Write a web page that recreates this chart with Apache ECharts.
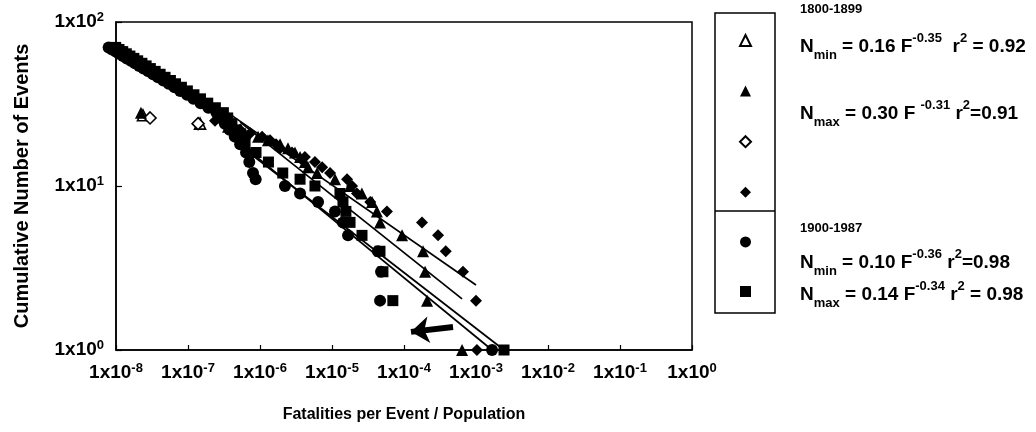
<!DOCTYPE html>
<html><head><meta charset="utf-8">
<script src="https://cdn.jsdelivr.net/npm/echarts@6/dist/echarts.min.js"></script>
<style>html,body{margin:0;padding:0;background:#fff}#c{width:1036px;height:432px}</style>
</head><body><div id="c"></div>
<script>
// ---- data (F = fatalities per event / population, N = cumulative number of events) ----
const xTicks = [1e-8,1e-7,1e-6,1e-5,1e-4,1e-3,1e-2,1e-1,1];
const yTicks = [1,10,100];

// 1800-1899
const openTriF = [2.37e-8, 1.47e-7];
const openTriN = [27, 24];
const triF = [2.22e-8,3.6e-7,4.5e-7,6.2e-7,9.4e-7,1.29e-6,1.9e-6,2.45e-6,3.06e-6,3.6e-6,4.2e-6,4.65e-6,6.2e-6,1.1e-5,1.78e-5,2.6e-5,3.6e-5,4.2e-5,4.65e-5,9.4e-5,1.84e-4,1.96e-4,2.09e-4,6.4e-4];
const triN = [28,23,22,21,20,19,18,17,16,15,14,13,12,11,10,9,8,7,6,5,4,3,2,1];
const openDiaF = [2.97e-8, 1.38e-7];
const openDiaN = [26, 24];
const diaF = [2.37e-7,4.1e-7,5.3e-7,7.3e-7,1.07e-6,1.38e-6,1.67e-6,1.9e-6,2.78e-6,4.2e-6,5.8e-6,7.3e-6,9.4e-6,1.62e-5,1.9e-5,2.22e-5,3.4e-5,5.8e-5,1.78e-4,2.97e-4,3.8e-4,6.6e-4,1.0e-3,1.03e-3];
const diaN = [25,23,22,21,20,19,18,17,16,15,14,13,12,11,10,9,8,7,6,5,4,3,2,1];

// 1900-1987
const circleN = [70,68,66,64,62,60,58,56,54,52,50,48,46,44,42,40,38,36,34,32,30,28,26,24,22,20,18,16,14,12,11,10,9,8,7,6,5,4,3,2,1];
const circleF = [7.9e-9,8.8e-9,9.9e-9,1.1e-8,1.25e-8,1.41e-8,1.61e-8,1.83e-8,2.1e-8,2.41e-8,2.81e-8,3.27e-8,3.83e-8,4.54e-8,5.4e-8,6.5e-8,7.8e-8,9.7e-8,1.19e-7,1.5e-7,1.92e-7,2.49e-7,2.84e-7,3.25e-7,3.78e-7,4.46e-7,5.3e-7,6.4e-7,7.1e-7,8.0e-7,8.7e-7,2.22e-6,3.6e-6,6.4e-6,1.1e-5,1.42e-5,1.67e-5,4.35e-5,4.8e-5,4.65e-5,1.67e-3];
const squareN = [70,68,66,64,62,60,58,56,54,52,50,48,46,44,42,40,38,36,34,32,30,28,26,24,22,20,18,16,14,12,11,10,9,8,7,6,5,4,3,2,1];
const squareF = [9.9e-9,1.1e-8,1.24e-8,1.39e-8,1.56e-8,1.77e-8,2.0e-8,2.29e-8,2.62e-8,3.0e-8,3.5e-8,4.1e-8,4.8e-8,5.7e-8,6.7e-8,8.1e-8,9.8e-8,1.21e-7,1.49e-7,1.88e-7,2.4e-7,3.1e-7,3.56e-7,4.07e-7,4.7e-7,5.6e-7,6.2e-7,8.8e-7,1.31e-6,2.07e-6,3.6e-6,5.8e-6,1.29e-5,1.42e-5,1.56e-5,1.78e-5,2.61e-5,4.64e-5,5.1e-5,7.0e-5,2.45e-3];

// fitted lines (end points)
const fitMax1800F = [3.6e-7, 1.0e-3];  const fitMax1800N = [27.9, 2.49];
const fitMin1800F = [5.3e-7, 6.4e-4];  const fitMin1800N = [24.5, 2.05];
const fitMax1900F = [8.0e-7, 2.45e-3]; const fitMax1900N = [15.3, 1];
const fitMin1900F = [6.2e-7, 1.67e-3]; const fitMin1900N = [17.2, 1];

// arrow annotation (tail -> head)
const arrowF = [4.8e-4, 1.25e-4];
const arrowN = [1.38, 1.29];

// ---- build ----
const zip = (f, n) => f.map((v, i) => [v, n[i]]);
const FONT = "'Liberation Sans', Arial, Helvetica, sans-serif";
const expFmt = v => '{a|1x10}{s|' + Math.round(Math.log10(v)) + '}';
const axisRich = {
  a: {fontFamily: FONT, fontWeight: 'bold', fontSize: 19, color: '#000', lineHeight: 22},
  s: {fontFamily: FONT, fontWeight: 'bold', fontSize: 13, color: '#000', lineHeight: 12, verticalAlign: 'top'}
};
const blk = '#000';
function scatter(name, data, symbol, size, open, z) {
  return {
    name, type: 'scatter', data, symbol, symbolSize: size, clip: false, z: z,
    itemStyle: open ? {color: '#fff', borderColor: blk, borderWidth: 1.6, opacity: 1} : {color: blk, opacity: 1},
    emphasis: {disabled: true}
  };
}
function fitLine(f, n) {
  return {type: 'line', data: zip(f, n), symbol: 'none', lineStyle: {color: blk, width: 1.7}, z: 4, silent: true};
}
const eqRich = {
  n: {fontFamily: FONT, fontWeight: 'bold', fontSize: 19, color: '#000', lineHeight: 30},
  b: {fontFamily: FONT, fontWeight: 'bold', fontSize: 13, color: '#000', lineHeight: 14, verticalAlign: 'bottom'},
  p: {fontFamily: FONT, fontWeight: 'bold', fontSize: 13, color: '#000', lineHeight: 14, verticalAlign: 'top'}
};
const hdr = {font: "bold 13px " + FONT, fill: '#000'};

const chart = echarts.init(document.getElementById('c'), null, {renderer: 'canvas'});
const arrowSeries = fitLine(fitMin1900F, fitMin1900N);
arrowSeries.markLine = {
  silent: true, symbol: ['none', 'arrow'], symbolSize: [20, 18], animation: false,
  label: {show: false}, lineStyle: {color: blk, width: 6, type: 'solid'},
  data: [[{coord: [arrowF[0], arrowN[0]]}, {coord: [arrowF[1], arrowN[1]]}]]
};
chart.setOption({
  animation: false,
  backgroundColor: '#fff',
  grid: {left: 116, right: 344, top: 22, bottom: 82, show: true, borderColor: blk, borderWidth: 1.5, backgroundColor: 'transparent'},
  xAxis: {
    type: 'log', logBase: 10, min: xTicks[0], max: xTicks[xTicks.length - 1], interval: 1,
    name: 'Fatalities per Event / Population', nameLocation: 'middle', nameGap: 57,
    nameTextStyle: {fontFamily: FONT, fontWeight: 'bold', fontSize: 16, color: '#000'},
    axisLine: {lineStyle: {color: blk, width: 1.5}},
    axisTick: {inside: true, length: 5, lineStyle: {color: blk, width: 1.2}},
    axisLabel: {formatter: expFmt, rich: axisRich, margin: 12},
    splitLine: {show: false}
  },
  yAxis: {
    type: 'log', logBase: 10, min: yTicks[0], max: yTicks[yTicks.length - 1], interval: 1,
    name: 'Cumulative Number of Events', nameLocation: 'middle', nameGap: 84, nameRotate: 90,
    nameTextStyle: {fontFamily: FONT, fontWeight: 'bold', fontSize: 20, color: '#000'},
    axisLine: {lineStyle: {color: blk, width: 1.5}},
    axisTick: {inside: true, length: 6, lineStyle: {color: blk, width: 1.2}},
    axisLabel: {formatter: expFmt, rich: axisRich, margin: 12},
    splitLine: {show: false}
  },
  legend: {
    orient: 'vertical', left: 734, top: 29, itemGap: 38.6, itemWidth: 11, itemHeight: 11,
    formatter: () => '', selectedMode: false,
    data: ['openTri', 'tri', 'openDia', 'dia', 'circle', 'square']
  },
  series: [
    scatter('openTri', zip(openTriF, openTriN), 'triangle', 11, true, 2),
    scatter('tri', zip(triF, triN), 'triangle', 12, false, 3),
    scatter('openDia', zip(openDiaF, openDiaN), 'diamond', 12, true, 2),
    scatter('dia', zip(diaF, diaN), 'diamond', 12, false, 3),
    scatter('circle', zip(circleF, circleN), 'circle', 12, false, 3),
    scatter('square', zip(squareF, squareN), 'rect', 11, false, 3),
    fitLine(fitMax1800F, fitMax1800N),
    fitLine(fitMin1800F, fitMin1800N),
    fitLine(fitMax1900F, fitMax1900N),
    arrowSeries
  ],
  graphic: [
    {type: 'rect', shape: {x: 715, y: 13, width: 60, height: 300}, style: {fill: 'none', stroke: blk, lineWidth: 1.5}},
    {type: 'line', shape: {x1: 715, y1: 211, x2: 775, y2: 211}, style: {stroke: blk, lineWidth: 1.5}},
    {type: 'text', x: 800, y: 3, style: Object.assign({text: '1800-1899'}, hdr)},
    {type: 'text', x: 800, y: 32, style: {text: '{n|N}{b|min}{n| = 0.16 F}{p|-0.35}{n|  r}{p|2}{n| = 0.92}', rich: eqRich}},
    {type: 'text', x: 800, y: 99, style: {text: '{n|N}{b|max}{n| = 0.30 F }{p|-0.31}{n| r}{p|2}{n|=0.91}', rich: eqRich}},
    {type: 'text', x: 800, y: 222, style: Object.assign({text: '1900-1987'}, hdr)},
    {type: 'text', x: 800, y: 248, style: {text: '{n|N}{b|min}{n| = 0.10 F}{p|-0.36}{n| r}{p|2}{n|=0.98}', rich: eqRich}},
    {type: 'text', x: 800, y: 280, style: {text: '{n|N}{b|max}{n| = 0.14 F}{p|-0.34}{n| r}{p|2}{n| = 0.98}', rich: eqRich}}
  ]
});
</script>
</body></html>
